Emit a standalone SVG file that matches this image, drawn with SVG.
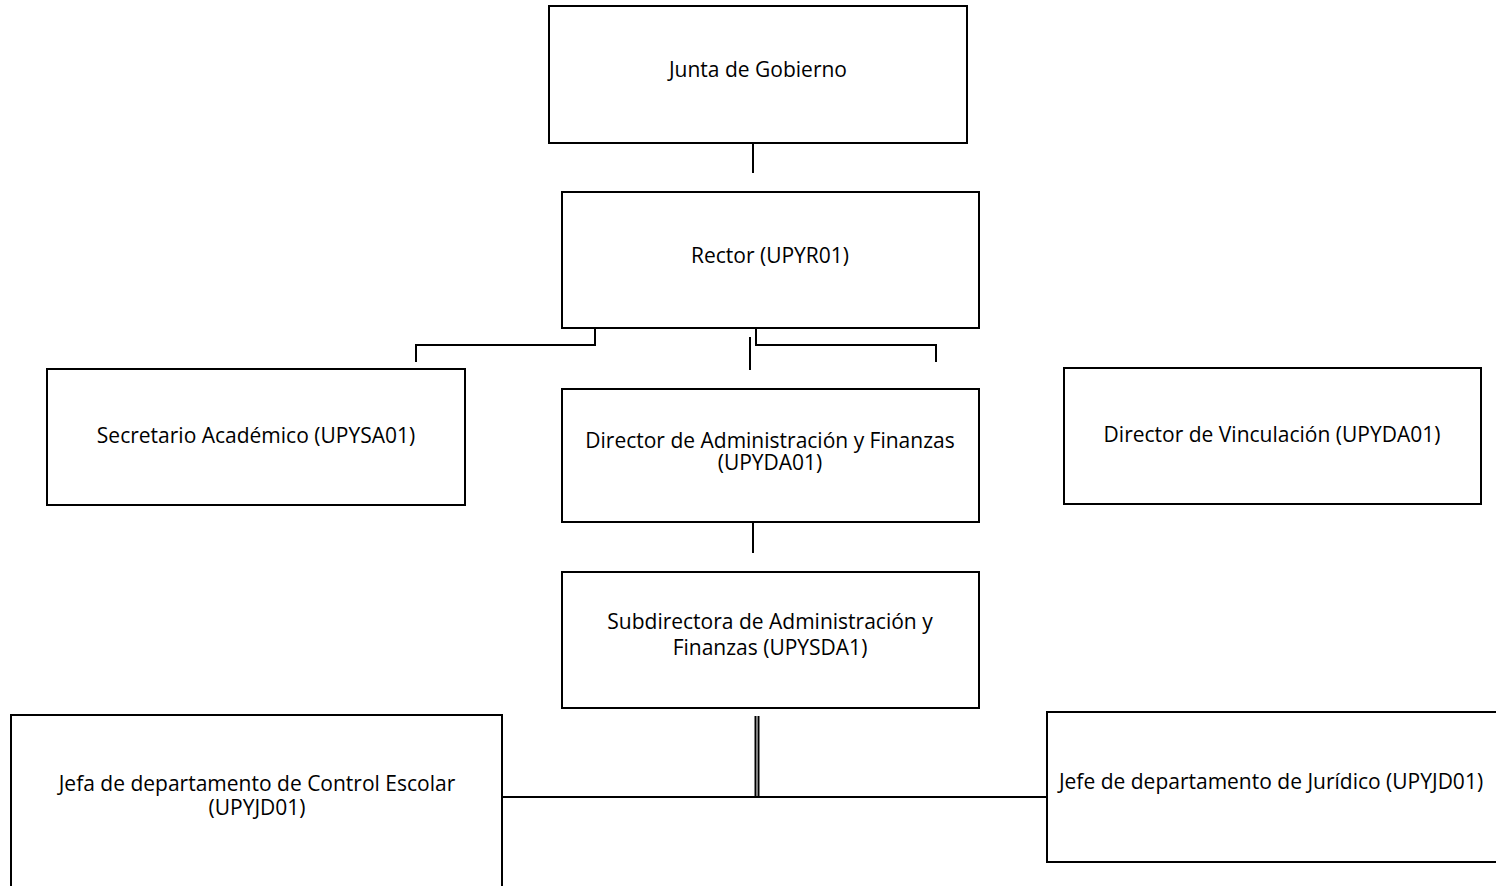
<svg xmlns="http://www.w3.org/2000/svg" width="1496" height="886" viewBox="0 0 1496 886">
<style>
.box{fill:#fff;stroke:#000;stroke-width:2}
.lbl{font-family:"Open Sans","Liberation Sans",sans-serif;font-size:21px;fill:#000;text-anchor:middle}
.con{fill:none;stroke:#000;stroke-width:2}
</style>
<rect width="1496" height="886" fill="#fff"/>
<g id="connectors">
<path class="con" d="M753,143 V173"/>
<path class="con" d="M595,328 V345 H416 V362"/>
<path class="con" d="M756,328 V345 H936 V362"/>
<path class="con" d="M750,337 V370"/>
<path class="con" d="M753,523 V553"/>
<path class="con" d="M755.5,716 V797 M758.5,716 V797"/>
<path class="con" d="M502,797 H1047"/>
</g>
<g id="junta"><rect class="box" x="549" y="6" width="418" height="137"/><text class="lbl" x="758" y="77">Junta de Gobierno</text></g>
<g id="rector"><rect class="box" x="562" y="192" width="417" height="136"/><text class="lbl" x="770" y="263">Rector (UPYR01)</text></g>
<g id="secretario"><rect class="box" x="47" y="369" width="418" height="136"/><text class="lbl" x="256" y="443">Secretario Académico (UPYSA01)</text></g>
<g id="dir-admin"><rect class="box" x="562" y="389" width="417" height="133"/><text class="lbl" x="770" y="448">Director de Administración y Finanzas</text><text class="lbl" x="770" y="470">(UPYDA01)</text></g>
<g id="dir-vinc"><rect class="box" x="1064" y="368" width="417" height="136"/><text class="lbl" x="1272" y="442">Director de Vinculación (UPYDA01)</text></g>
<g id="subdir"><rect class="box" x="562" y="572" width="417" height="136"/><text class="lbl" x="770" y="629">Subdirectora de Administración y</text><text class="lbl" x="770" y="655">Finanzas (UPYSDA1)</text></g>
<g id="jefa-escolar"><rect class="box" x="11" y="715" width="491" height="200"/><text class="lbl" x="257" y="791">Jefa de departamento de Control Escolar</text><text class="lbl" x="257" y="815">(UPYJD01)</text></g>
<g id="jefe-juridico"><rect class="box" x="1047" y="712" width="480" height="150"/><text class="lbl" x="1271" y="789">Jefe de departamento de Jurídico (UPYJD01)</text></g>
</svg>
